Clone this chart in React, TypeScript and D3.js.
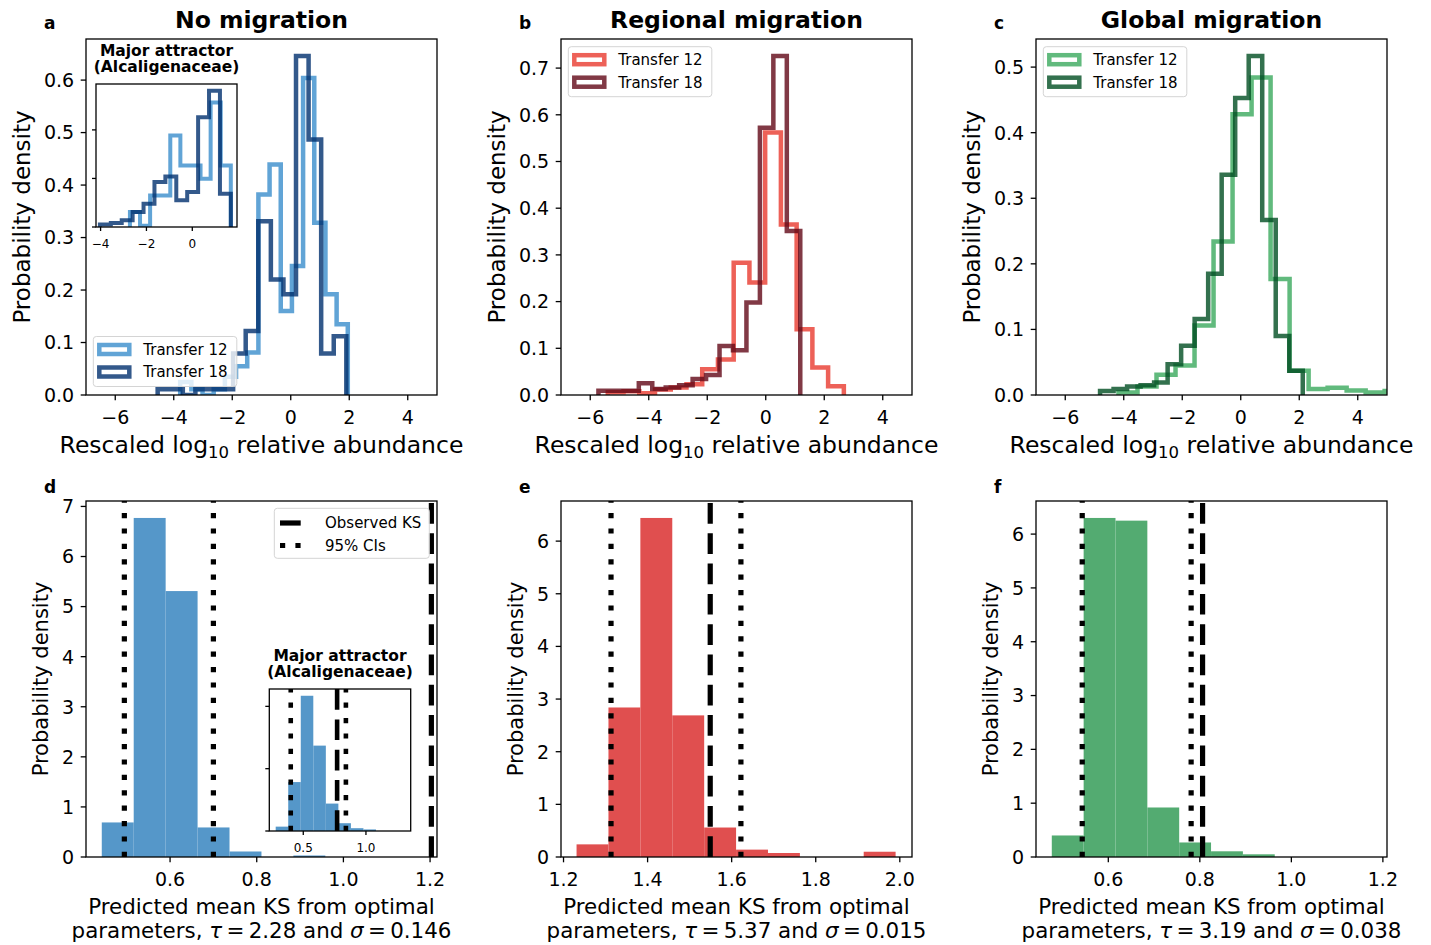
import React from 'react'
import * as d3 from 'd3'

const FONT = "'DejaVu Sans', sans-serif"

// ---------- top row: rescaled log10 relative abundance ----------
const topXDomain = [-7, 5]
const topXTicks = [-6, -4, -2, 0, 2, 4]

// bins are [first edge, bin width]
const noMigT12Bins = [-3.78, 0.382]
const noMigT12 = [0.025, 0.011, 0, 0.011, 0.035, 0.055, 0.081, 0.382, 0.439, 0.16, 0.246, 0.604, 0.328, 0.192, 0.135]
const noMigT18Bins = [-4.55, 0.43]
const noMigT18 = [0.011, 0.011, 0, 0.011, 0.011, 0.011, 0.079, 0.122, 0.331, 0.22, 0.192, 0.646, 0.487, 0.079, 0.112]
const noMigYTicks = [0, 0.1, 0.2, 0.3, 0.4, 0.5, 0.6]

// inset of a: major attractor
const attrXDomain = [-4.2, 1.95]
const attrXTicks = [-4, -2, 0]
const attrYTicks = [0, 0.2, 0.4]
const attrT12Bins = [-2.72, 0.44]
const attrT12 = [0.062, 0.005, 0.13, 0.13, 0.377, 0.253, 0.253, 0.199, 0.513, 0.253]
const attrT18Bins = [-4.03, 0.476]
const attrT18 = [0.01, 0.016, 0.028, 0.062, 0.096, 0.185, 0.208, 0.11, 0.144, 0.452, 0.561, 0.137]

const regMigT12Bins = [-5.4, 0.538]
const regMigT12 = [0.006, 0.008, 0.004, 0.012, 0.016, 0.023, 0.055, 0.076, 0.283, 0.241, 0.562, 0.365, 0.141, 0.059, 0.019]
const regMigT18Bins = [-5.72, 0.46]
const regMigT18 = [0.009, 0.009, 0.009, 0.025, 0.013, 0.016, 0.021, 0.034, 0.043, 0.105, 0.096, 0.198, 0.572, 0.726, 0.351]
const regMigYTicks = [0, 0.1, 0.2, 0.3, 0.4, 0.5, 0.6, 0.7]

const globMigT12Bins = [-4.18, 0.65]
const globMigT12 = [0.004, 0.013, 0.031, 0.045, 0.106, 0.234, 0.428, 0.484, 0.177, 0.037, 0.009, 0.011, 0.007, 0.004, 0.006]
const globMigT18Bins = [-4.81, 0.462]
const globMigT18 = [0.006, 0.009, 0.013, 0.015, 0.019, 0.047, 0.075, 0.116, 0.185, 0.336, 0.453, 0.517, 0.267, 0.09, 0.037]
const globMigYTicks = [0, 0.1, 0.2, 0.3, 0.4, 0.5]

// ---------- bottom row: predicted mean KS ----------
const ksNoMigDomain = [0.406, 1.216]
const ksNoMigXTicks = [0.6, 0.8, 1.0, 1.2]
const ksNoMigYTicks = [0, 1, 2, 3, 4, 5, 6, 7]
const ksNoMigBins = [0.4424, 0.0737]
const ksNoMig = [0.69, 6.77, 5.31, 0.59, 0.11, 0, 0.03]
const ksNoMigCI = [0.4945, 0.7]
const ksNoMigObs = 1.203

const ksAttrDomain = [0.229, 1.357]
const ksAttrXTicks = [0.5, 1.0]
const ksAttrYTicks = [0, 2, 4]
const ksAttrBins = [0.28, 0.1]
const ksAttr = [0.14, 1.57, 4.34, 2.74, 0.88, 0.25, 0.09, 0.05]
const ksAttrCI = [0.4, 0.84]
const ksAttrObs = 0.77

const ksRegDomain = [1.194, 2.029]
const ksRegXTicks = [1.2, 1.4, 1.6, 1.8, 2.0]
const ksRegYTicks = [0, 1, 2, 3, 4, 5, 6]
const ksRegBins = [1.231, 0.0759]
const ksReg = [0.24, 2.84, 6.44, 2.69, 0.56, 0.14, 0.076, 0, 0, 0.1]
const ksRegCI = [1.313, 1.622]
const ksRegObs = 1.549

const ksGlobDomain = [0.442, 1.209]
const ksGlobXTicks = [0.6, 0.8, 1.0, 1.2]
const ksGlobYTicks = [0, 1, 2, 3, 4, 5, 6]
const ksGlobBins = [0.4765, 0.0696]
const ksGlob = [0.4, 6.3, 6.25, 0.92, 0.27, 0.106, 0.05]
const ksGlobCI = [0.543, 0.781]
const ksGlobObs = 0.806

// layout
const COLS = [86, 561, 1036]
const AX_W = 351
const TOP = { top: 39, bottom: 395 }
const BOT = { top: 501, bottom: 857 }
const TICK_FS = 19

const minus = (t: number) => (t < 0 ? '\u2212' + Math.abs(t) : String(t))
const fix1 = (t: number) => t.toFixed(1)
const int = (t: number) => String(t)

function stepPoints(bins: number[], heights: number[]): [number, number][] {
  const [x0, w] = bins
  const pts: [number, number][] = [[x0, 0]]
  heights.forEach((h, i) => {
    pts.push([x0 + i * w, h], [x0 + (i + 1) * w, h])
  })
  pts.push([x0 + heights.length * w, 0])
  return pts
}

function Frame({ left, top, width, height, x, y, xTicks, yTicks, xFmt, yFmt, fs, showYLabels = true, tickLen = 5.3, pad = 6.5 }: any) {
  const bottom = top + height
  return (
    <g>
      {xTicks.map((t: number) => (
        <g key={'x' + t}>
          <line x1={x(t)} x2={x(t)} y1={bottom} y2={bottom + tickLen} stroke="#000" strokeWidth={1.3} />
          <text x={x(t)} y={bottom + tickLen + 5.3 + fs * 0.96} textAnchor="middle" fontSize={fs}>{xFmt(t)}</text>
        </g>
      ))}
      {yTicks.map((t: number) => (
        <g key={'y' + t}>
          <line x1={left - tickLen} x2={left} y1={y(t)} y2={y(t)} stroke="#000" strokeWidth={1.3} />
          {showYLabels && (
            <text x={left - tickLen - pad} y={y(t)} dy="0.36em" textAnchor="end" fontSize={fs}>{yFmt(t)}</text>
          )}
        </g>
      ))}
      <rect x={left} y={top} width={width} height={height} fill="none" stroke="#000" strokeWidth={1.3} />
    </g>
  )
}

function StepHists({ series, x, y, lw, clip }: any) {
  const line = d3.line<[number, number]>().x(d => x(d[0])).y(d => y(d[1]))
  return (
    <g clipPath={`url(#${clip})`}>
      {series.map((s: any) => (
        <path key={s.label} d={line(stepPoints(s.bins, s.heights)) || ''} fill="none"
          stroke={s.color} strokeWidth={lw} opacity={s.alpha} strokeLinejoin="miter" />
      ))}
    </g>
  )
}

function InsetTitle({ cx, top }: { cx: number; top: number }) {
  return (
    <g fontWeight="bold" fontSize={15.5} textAnchor="middle">
      <text x={cx} y={top - 28}>Major attractor</text>
      <text x={cx} y={top - 12}>(Alcaligenaceae)</text>
    </g>
  )
}

function StepLegend({ left, top, series }: any) {
  return (
    <g>
      <rect x={left} y={top} width={143.5} height={50} rx={3} fill="#fff" fillOpacity={0.8} stroke="#d4d4d4" strokeWidth={1} />
      {series.map((s: any, i: number) => {
        const cy = top + 13 + i * 22.5
        return (
          <g key={s.label}>
            <rect x={left + 6} y={cy - 4.5} width={30} height={9} fill="none" stroke={s.color} strokeWidth={4.5} opacity={s.alpha} />
            <text x={left + 50} y={cy} dy="0.36em" fontSize={15}>{s.label}</text>
          </g>
        )
      })}
    </g>
  )
}

function TopPanel({ p, col }: any) {
  const left = COLS[col]
  const x = d3.scaleLinear().domain(topXDomain).range([left, left + AX_W])
  const ymax = (d3.max(p.series, (s: any) => d3.max(s.heights as number[])) as number) * 1.05
  const y = d3.scaleLinear().domain([0, ymax]).range([TOP.bottom, TOP.top])
  const clip = 'clip-top-' + col
  const cx = left + AX_W / 2
  const ins = p.inset
  let insetEl = null
  if (ins) {
    const ix = d3.scaleLinear().domain(attrXDomain).range([ins.left, ins.left + ins.width])
    const iymax = (d3.max(ins.series, (s: any) => d3.max(s.heights as number[])) as number) * 1.05
    const iy = d3.scaleLinear().domain([0, iymax]).range([ins.top + ins.height, ins.top])
    insetEl = (
      <g>
        <clipPath id="clip-inset-a"><rect x={ins.left} y={ins.top} width={ins.width} height={ins.height} /></clipPath>
        <rect x={ins.left} y={ins.top} width={ins.width} height={ins.height} fill="#fff" />
        <StepHists series={ins.series} x={ix} y={iy} lw={4} clip="clip-inset-a" />
        <Frame left={ins.left} top={ins.top} width={ins.width} height={ins.height} x={ix} y={iy}
          xTicks={attrXTicks} yTicks={attrYTicks} xFmt={minus} yFmt={fix1} fs={12} showYLabels={false} tickLen={4} />
        <InsetTitle cx={ins.left + ins.width / 2} top={ins.top} />
      </g>
    )
  }
  return (
    <g>
      <clipPath id={clip}><rect x={left} y={TOP.top} width={AX_W} height={TOP.bottom - TOP.top} /></clipPath>
      <StepHists series={p.series} x={x} y={y} lw={4.5} clip={clip} />
      <Frame left={left} top={TOP.top} width={AX_W} height={TOP.bottom - TOP.top} x={x} y={y}
        xTicks={topXTicks} yTicks={p.yTicks} xFmt={minus} yFmt={fix1} fs={TICK_FS} />
      {insetEl}
      <StepLegend left={left + 7.3} top={p.legendBottom ? TOP.bottom - 58.5 : TOP.top + 7.7} series={p.series} />
      <text x={cx} y={28} textAnchor="middle" fontSize={23.5} fontWeight="bold">{p.title}</text>
      <text x={left - 42} y={29} fontSize={17} fontWeight="bold">{p.letter}</text>
      <text transform={`translate(${left - 64},${(TOP.top + TOP.bottom) / 2}) rotate(-90)`} textAnchor="middle"
        dy="0.36em" fontSize={23}>Probability density</text>
      <text x={cx} y={453} textAnchor="middle" fontSize={23.5}>
        Rescaled log<tspan fontSize={16.5} dy={5}>10</tspan><tspan dy={-5}> relative abundance</tspan>
      </text>
    </g>
  )
}

function VLines({ x, y0, y1, ci, obs, lw }: any) {
  return (
    <g stroke="#000" strokeWidth={lw}>
      {ci.map((v: number, i: number) => (
        <line key={'ci' + i} x1={x(v)} x2={x(v)} y1={y0} y2={y1} strokeDasharray="5.2 10.2" />
      ))}
      <line x1={x(obs)} x2={x(obs)} y1={y0} y2={y1} strokeDasharray="20.7 9.6" />
    </g>
  )
}

function Bars({ bins, heights, x, y, color }: any) {
  const [x0, w] = bins
  return (
    <g fill={color}>
      {heights.map((h: number, i: number) => h > 0 && (
        <rect key={i} x={x(x0 + i * w)} width={x(x0 + (i + 1) * w) - x(x0 + i * w)} y={y(h)} height={y(0) - y(h)} />
      ))}
    </g>
  )
}

function BottomPanel({ p, col }: any) {
  const left = COLS[col]
  const x = d3.scaleLinear().domain(p.domain).range([left, left + AX_W])
  const ymax = (d3.max(p.heights as number[]) as number) * 1.05
  const y = d3.scaleLinear().domain([0, ymax]).range([BOT.bottom, BOT.top])
  const clip = 'clip-bot-' + col
  const cx = left + AX_W / 2
  const ins = p.inset
  let insetEl = null
  if (ins) {
    const ix = d3.scaleLinear().domain(ksAttrDomain).range([ins.left, ins.left + ins.width])
    const iymax = (d3.max(ksAttr) as number) * 1.05
    const iy = d3.scaleLinear().domain([0, iymax]).range([ins.top + ins.height, ins.top])
    insetEl = (
      <g>
        <clipPath id="clip-inset-d"><rect x={ins.left} y={ins.top} width={ins.width} height={ins.height} /></clipPath>
        <rect x={ins.left} y={ins.top} width={ins.width} height={ins.height} fill="#fff" />
        <g clipPath="url(#clip-inset-d)">
          <Bars bins={ksAttrBins} heights={ksAttr} x={ix} y={iy} color={p.color} />
          <VLines x={ix} y0={ins.top + ins.height} y1={ins.top} ci={ksAttrCI} obs={ksAttrObs} lw={4.6} />
        </g>
        <Frame left={ins.left} top={ins.top} width={ins.width} height={ins.height} x={ix} y={iy}
          xTicks={ksAttrXTicks} yTicks={ksAttrYTicks} xFmt={fix1} yFmt={int} fs={12} showYLabels={false} tickLen={4} />
        <InsetTitle cx={ins.left + ins.width / 2} top={ins.top} />
      </g>
    )
  }
  const sp = '\u2009'
  return (
    <g>
      <clipPath id={clip}><rect x={left} y={BOT.top} width={AX_W} height={BOT.bottom - BOT.top} /></clipPath>
      <g clipPath={`url(#${clip})`}>
        <Bars bins={p.bins} heights={p.heights} x={x} y={y} color={p.color} />
        <VLines x={x} y0={BOT.bottom} y1={BOT.top} ci={p.ci} obs={p.obs} lw={5.2} />
      </g>
      <Frame left={left} top={BOT.top} width={AX_W} height={BOT.bottom - BOT.top} x={x} y={y}
        xTicks={p.xTicks} yTicks={p.yTicks} xFmt={fix1} yFmt={int} fs={TICK_FS} />
      {insetEl}
      {p.legend && (
        <g>
          <rect x={left + AX_W - 162.7} y={BOT.top + 7.3} width={155} height={50} rx={3} fill="#fff" fillOpacity={0.8} stroke="#d4d4d4" strokeWidth={1} />
          <line x1={left + AX_W - 157} x2={left + AX_W - 127} y1={BOT.top + 22} y2={BOT.top + 22} stroke="#000" strokeWidth={5.2} strokeDasharray="20.7 9.6" />
          <text x={left + AX_W - 112} y={BOT.top + 22} dy="0.36em" fontSize={15}>Observed KS</text>
          <line x1={left + AX_W - 157} x2={left + AX_W - 127} y1={BOT.top + 44.5} y2={BOT.top + 44.5} stroke="#000" strokeWidth={5.2} strokeDasharray="5.2 10.2" />
          <text x={left + AX_W - 112} y={BOT.top + 44.5} dy="0.36em" fontSize={15}>95% CIs</text>
        </g>
      )}
      <text x={left - 42} y={493} fontSize={17} fontWeight="bold">{p.letter}</text>
      <text transform={`translate(${left - 46},${(BOT.top + BOT.bottom) / 2}) rotate(-90)`} textAnchor="middle"
        dy="0.36em" fontSize={21}>Probability density</text>
      <text x={cx} y={914} textAnchor="middle" fontSize={21.4}>Predicted mean KS from optimal</text>
      <text x={cx} y={938} textAnchor="middle" fontSize={21.4}>
        parameters, <tspan fontStyle="italic">τ</tspan>{sp}={sp}{p.tau} and <tspan fontStyle="italic">σ</tspan>{sp}={sp}{p.sigma}
      </text>
    </g>
  )
}

const blue = { light: '#3a8dcc', dark: '#00306e' }
const red = { light: '#e8392e', dark: '#620716' }
const green = { light: '#3aa95c', dark: '#004d22' }

const mk = (c: any, b12: number[], h12: number[], b18: number[], h18: number[]) => [
  { label: 'Transfer 12', bins: b12, heights: h12, color: c.light, alpha: 0.8 },
  { label: 'Transfer 18', bins: b18, heights: h18, color: c.dark, alpha: 0.8 },
]

const topPanels = [
  {
    title: 'No migration', letter: 'a', yTicks: noMigYTicks, legendBottom: true,
    series: mk(blue, noMigT12Bins, noMigT12, noMigT18Bins, noMigT18),
    inset: { left: 96, top: 84, width: 141, height: 143, series: mk(blue, attrT12Bins, attrT12, attrT18Bins, attrT18) },
  },
  { title: 'Regional migration', letter: 'b', yTicks: regMigYTicks, series: mk(red, regMigT12Bins, regMigT12, regMigT18Bins, regMigT18) },
  { title: 'Global migration', letter: 'c', yTicks: globMigYTicks, series: mk(green, globMigT12Bins, globMigT12, globMigT18Bins, globMigT18) },
]

const bottomPanels = [
  {
    letter: 'd', domain: ksNoMigDomain, xTicks: ksNoMigXTicks, yTicks: ksNoMigYTicks, bins: ksNoMigBins, heights: ksNoMig,
    ci: ksNoMigCI, obs: ksNoMigObs, color: '#5597c9', tau: '2.28', sigma: '0.146', legend: true,
    inset: { left: 269.3, top: 689, width: 141.4, height: 142 },
  },
  {
    letter: 'e', domain: ksRegDomain, xTicks: ksRegXTicks, yTicks: ksRegYTicks, bins: ksRegBins, heights: ksReg,
    ci: ksRegCI, obs: ksRegObs, color: '#e04f4f', tau: '5.37', sigma: '0.015',
  },
  {
    letter: 'f', domain: ksGlobDomain, xTicks: ksGlobXTicks, yTicks: ksGlobYTicks, bins: ksGlobBins, heights: ksGlob,
    ci: ksGlobCI, obs: ksGlobObs, color: '#53ab71', tau: '3.19', sigma: '0.038',
  },
]

export default function App() {
  return (
    <svg width={1431} height={945} style={{ position: 'absolute', left: 0, top: 0, background: '#fff' }}
      fontFamily={FONT} fill="#000">
      {topPanels.map((p, i) => <TopPanel key={p.letter} p={p} col={i} />)}
      {bottomPanels.map((p, i) => <BottomPanel key={p.letter} p={p} col={i} />)}
    </svg>
  )
}
